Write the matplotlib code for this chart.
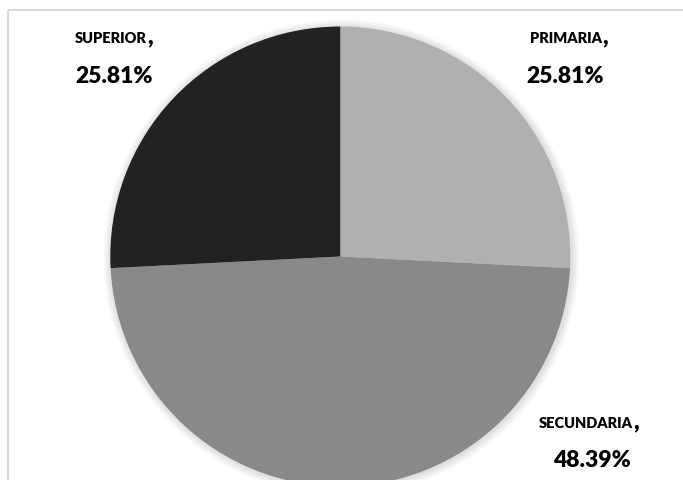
import matplotlib.pyplot as plt
from matplotlib.patches import Circle

categories = ["PRIMARIA", "SECUNDARIA", "SUPERIOR"]
values = [25.81, 48.39, 25.81]
colors = ["#b0b0b0", "#898989", "#222222"]

# label anchor (comma x, baseline y) and percentage (center x, baseline y), in pixels from top-left
name_pos = [(602, 43), (633, 428), (147, 43)]
pct_pos = [(565, 83), (592, 467), (114, 83)]

W, H = 683, 481
fig = plt.figure(figsize=(W / 100, H / 100), dpi=100)
ax = fig.add_axes([0, 0, 1, 1])

cx, cy, r = 340.3, H - 257.5, 230

# soft shadow around the pie
for k in range(8, 0, -1):
    ax.add_patch(Circle((cx + 1, cy - 1), r + k, color="black", alpha=0.016, lw=0))

ax.pie(values, colors=colors, startangle=90, counterclock=False,
       center=(cx, cy), radius=r, frame=True,
       wedgeprops=dict(linewidth=0))

# chart area border (cropped on right/bottom)
ax.plot([8, 8], [-5, H - 11], color="#d9d9d9", lw=1.5, solid_capstyle="butt")
ax.plot([8, W + 5], [H - 11, H - 11], color="#d9d9d9", lw=1.5, solid_capstyle="butt")

for name, v, (nx, ny), (px, py) in zip(categories, values, name_pos, pct_pos):
    ax.text(nx, H - ny, name, ha="right", va="baseline", fontsize=10.5,
            fontweight="heavy", family="Lato", color="black")
    ax.text(nx, H - ny, ",", ha="left", va="baseline", fontsize=17,
            fontweight="heavy", family="Lato", color="black")
    ax.text(px, H - py, f"{v:.2f}%", ha="center", va="baseline", fontsize=16.5,
            fontweight="heavy", family="Lato", color="black")

ax.set_xlim(0, W)
ax.set_ylim(0, H)
ax.set_aspect("auto")
ax.axis("off")

fig.savefig("out.png", dpi=100)
plt.close(fig)
